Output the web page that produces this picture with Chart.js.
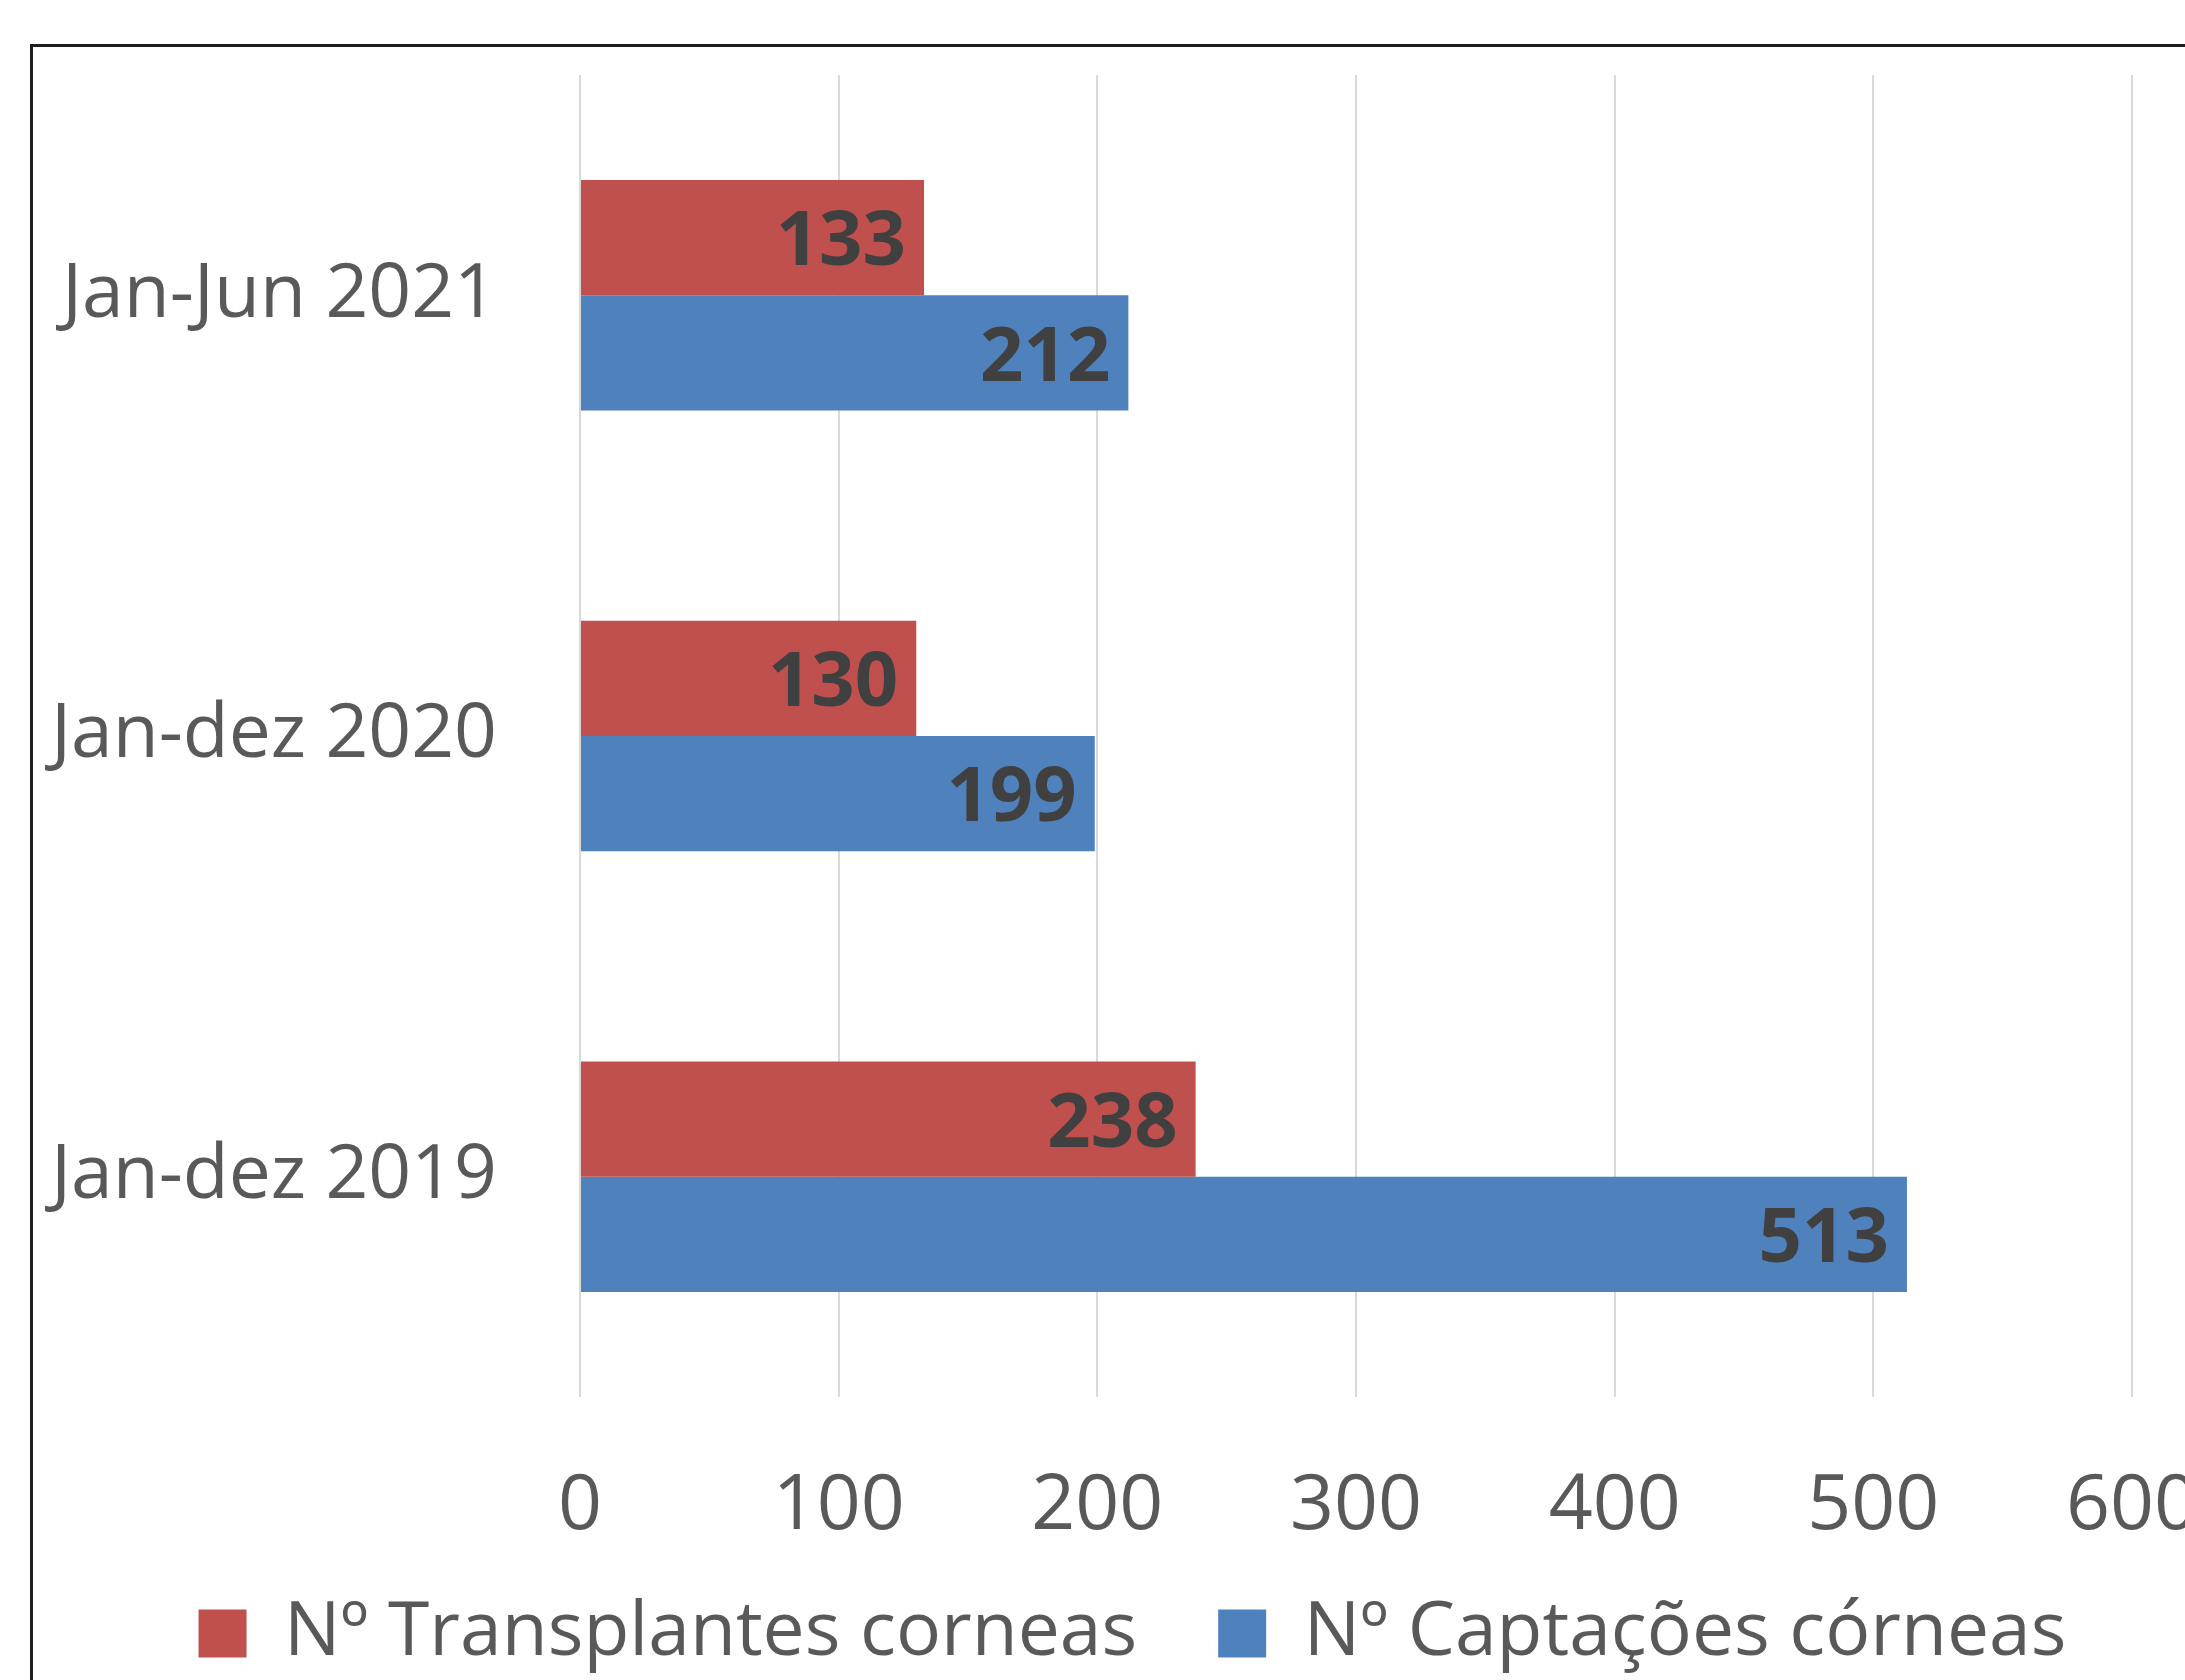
<!DOCTYPE html>
<html>
<head>
<meta charset="utf-8">
<script src="https://cdn.jsdelivr.net/npm/chart.js"></script>
<style>
  html, body { margin: 0; padding: 0; background: #fff; overflow: hidden; }
  body { width: 2185px; height: 1680px; position: relative; }
  #caixa {
    position: absolute; left: 30px; top: 44px;
    width: 2300px; height: 1700px;
    border: 3px solid #1e1e1e; background: #fff;
  }
  #grafico { display: block; }
</style>
</head>
<body>
<div id="caixa">
  <canvas id="grafico" width="2276" height="1671"></canvas>
</div>
<script>
// Dados do gráfico
const categorias = ['Jan-Jun 2021', 'Jan-dez 2020', 'Jan-dez 2019'];
const transplantes = [133, 130, 238];
const captacoes = [212, 199, 513];
const ticksX = [0, 100, 200, 300, 400, 500, 600];

const fonte = "'Open Sans', 'DejaVu Sans', sans-serif";

// Rótulos de valor na ponta de cada barra
const rotulosBarras = {
    id: 'rotulosBarras',
    afterDatasetsDraw(chart) {
        const ctx = chart.ctx;
        ctx.save();
        ctx.font = 'bold 76px ' + fonte;
        ctx.fillStyle = '#404040';
        ctx.textAlign = 'right';
        ctx.textBaseline = 'middle';
        chart.data.datasets.forEach((ds, i) => {
            chart.getDatasetMeta(i).data.forEach((bar, j) => {
                ctx.fillText(String(ds.data[j]), bar.x - 18, bar.y + 6);
            });
        });
        ctx.restore();
    }
};

// Ajusta a posição da legenda (direita e para cima)
const moverLegenda = {
    id: 'moverLegenda',
    afterLayout(chart) {
        if (chart.legend) {
            chart.legend.left += 50;
            chart.legend.right += 50;
            chart.legend.top -= 37;
            chart.legend.bottom -= 37;
        }
    }
};

const ctx = document.getElementById('grafico').getContext('2d');
new Chart(ctx, {
    type: 'bar',
    data: {
        labels: categorias,
        datasets: [{
            label: 'Nº Transplantes corneas',
            data: transplantes,
            backgroundColor: '#C0504D',
            borderWidth: 0
        }, {
            label: 'Nº Captações córneas',
            data: captacoes,
            backgroundColor: '#4F81BD',
            borderWidth: 0
        }]
    },
    options: {
        indexAxis: 'y',
        responsive: false,
        animation: false,
        datasets: {
            bar: { categoryPercentage: 0.523, barPercentage: 1.0 }
        },
        layout: { padding: { top: 28, right: 177, left: 0, bottom: 0 } },
        scales: {
            x: {
                min: 0,
                max: 600,
                afterBuildTicks: (scale) => {
                    scale.ticks = ticksX.map(v => ({ value: v }));
                },
                afterFit: (scale) => {
                    scale.height = 155;
                    scale.paddingLeft = 0;
                    scale.paddingRight = 0;
                },
                grid: { color: '#D9D9D9', lineWidth: 2, drawTicks: false },
                border: { display: false },
                ticks: {
                    padding: 64,
                    color: '#595959',
                    font: { family: fonte, size: 77 }
                }
            },
            y: {
                afterFit: (scale) => {
                    scale.width = 547;
                    scale.paddingTop = 0;
                    scale.paddingBottom = 0;
                },
                grid: { display: false, drawTicks: false },
                border: { display: false },
                ticks: {
                    padding: 83,
                    color: '#595959',
                    font: { family: fonte, size: 75 }
                }
            }
        },
        plugins: {
            legend: {
                position: 'bottom',
                labels: {
                    boxWidth: 48,
                    boxHeight: 48,
                    padding: 81,
                    color: '#595959',
                    font: { family: fonte, size: 75 }
                }
            },
            tooltip: { enabled: false }
        }
    },
    plugins: [rotulosBarras, moverLegenda]
});
</script>
</body>
</html>
